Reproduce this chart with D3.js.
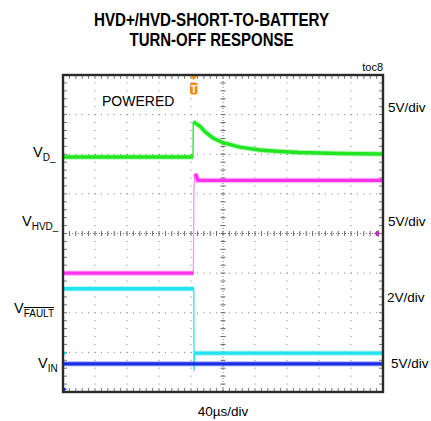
<!DOCTYPE html>
<html>
<head>
<meta charset="utf-8">
<script src="https://cdn.jsdelivr.net/npm/d3@7"></script>
<style>
  html, body { margin: 0; padding: 0; background: #fff; }
  svg { display: block; font-family: "Liberation Sans", Arial, sans-serif; }
</style>
</head>
<body>
<div id="chart"></div>
<script>
// ---------- data ----------
const titleLines = ["HVD+/HVD-SHORT-TO-BATTERY", "TURN-OFF RESPONSE"];
const timeLabel = "40µs/div";
const figId = "toc8";
const annotation = "POWERED";

// channel settings (V/div label, volts per div, zero position in divisions)
const channelNames   = ["VD_", "VHVD_", "VFAULT", "VIN"];
const channelScale   = ["5V/div", "5V/div", "2V/div", "5V/div"];
const channelVPerDiv = [5, 5, 2, 5];
const channelZeroDiv = [1.93, -1.0, -3.02, -3.93];
const channelColors  = ["#22e622", "#ff33ee", "#22e4f0", "#1a2ee6"];

// traces: time (µs) and volts
const vdTime   = [0, 162.5, 162.8, 165, 171, 177.5, 187.5, 200, 221, 246, 271, 296, 346, 400];
const vdVolts  = [0, 0, 4.4, 4.3, 3.9, 3.2, 2.4, 1.8, 1.25, 0.88, 0.7, 0.57, 0.44, 0.38];
const vdSplit  = 2;

const hvdTime  = [0, 163, 163.6, 165, 166.5, 168.5, 400];
const hvdVolts = [0, 0, 10.5, 12.5, 12.3, 11.7, 11.7];
const hvdSplit = 3;

const faultTime  = [0, 163.5, 163.8, 164.3, 400];
const faultVolts = [3.25, 3.25, -0.9, 0, 0];
const faultSplit = 3;

const vinTime  = [0, 400];
const vinVolts = [3.2, 3.2];
const vinSplit = 0;

const triggerTime = 163.4;
const trigLevelDiv = 0;

// ---------- layout ----------
const W = 431, H = 421;
const L = 63, R = 383, T = 75, B = 392;
const xDivs = 10, yDivs = 8;

const svg = d3.select("#chart").append("svg").attr("width", W).attr("height", H);

const x = d3.scaleLinear().domain([0, 400]).range([L, R]);
const y = d3.scaleLinear().domain([-4, 4]).range([B, T]);

// title
svg.append("text").attr("x", 211.5).attr("y", 26).attr("text-anchor", "middle")
  .attr("font-size", 17.5).attr("font-weight", "bold")
  .attr("textLength", 235).attr("lengthAdjust", "spacingAndGlyphs").text(titleLines[0]);
svg.append("text").attr("x", 211.5).attr("y", 46).attr("text-anchor", "middle")
  .attr("font-size", 17.5).attr("font-weight", "bold")
  .attr("textLength", 164).attr("lengthAdjust", "spacingAndGlyphs").text(titleLines[1]);

svg.append("text").attr("x", 383).attr("y", 71).attr("text-anchor", "end")
  .attr("font-size", 11).text(figId);

// grid
const g = svg.append("g");
const xMinor = d3.range(0, 400.001, 40 / 5);
const yMinor = d3.range(-4, 4.001, 1 / 5);
const dotColor = "#7a7a7a";
for (let i = 1; i < xDivs; i++) {
  if (i === 5) continue;
  const xv = x(i * 40);
  yMinor.forEach(d => {
    g.append("rect").attr("x", xv - 0.5).attr("y", y(d) - 0.5).attr("width", 1).attr("height", 1).attr("fill", dotColor);
  });
}
for (let j = -3; j <= 3; j++) {
  if (j === 0) continue;
  const yv = y(j);
  xMinor.forEach(d => {
    g.append("rect").attr("x", x(d) - 0.5).attr("y", yv - 0.5).attr("width", 1).attr("height", 1).attr("fill", dotColor);
  });
}
// center crosshair
g.append("line").attr("x1", x(200)).attr("x2", x(200)).attr("y1", T).attr("y2", B)
  .attr("stroke", "#777").attr("stroke-width", 1).attr("stroke-dasharray", "1,2");
g.append("line").attr("x1", L).attr("x2", R).attr("y1", y(0)).attr("y2", y(0))
  .attr("stroke", "#777").attr("stroke-width", 1).attr("stroke-dasharray", "1,2");
xMinor.forEach(d => {
  g.append("line").attr("x1", x(d)).attr("x2", x(d)).attr("y1", y(0) - 2.5).attr("y2", y(0) + 2.5).attr("stroke", "#666");
  g.append("line").attr("x1", x(d)).attr("x2", x(d)).attr("y1", T).attr("y2", T + 4).attr("stroke", "#777");
  g.append("line").attr("x1", x(d)).attr("x2", x(d)).attr("y1", B - 4).attr("y2", B).attr("stroke", "#777");
});
yMinor.forEach(d => {
  g.append("line").attr("x1", x(200) - 2.5).attr("x2", x(200) + 2.5).attr("y1", y(d)).attr("y2", y(d)).attr("stroke", "#666");
  g.append("line").attr("x1", L).attr("x2", L + 4).attr("y1", y(d)).attr("y2", y(d)).attr("stroke", "#777");
  g.append("line").attr("x1", R - 4).attr("x2", R).attr("y1", y(d)).attr("y2", y(d)).attr("stroke", "#777");
});

// traces
const traces = [
  {t: vdTime, v: vdVolts, split: vdSplit, ch: 0},
  {t: hvdTime, v: hvdVolts, split: hvdSplit, ch: 1},
  {t: faultTime, v: faultVolts, split: faultSplit, ch: 2},
  {t: vinTime, v: vinVolts, split: vinSplit, ch: 3}
];
const thinColors = ["#22e622", "#ff90f4", "#22e4f0", "#1a2ee6"];
const tg = svg.append("g");
traces.forEach(tr => {
  const pts = tr.t.map((t, i) => [t, tr.v[i]]);
  const ch = tr.ch;
  const line = d3.line()
    .x(d => x(d[0]))
    .y(d => y(channelZeroDiv[ch] + d[1] / channelVPerDiv[ch]));
  tg.append("path").attr("d", line(pts)).attr("fill", "none")
    .attr("stroke", thinColors[ch]).attr("stroke-width", 1.3);
  const segs = tr.split > 0 ? [pts.slice(0, 2), pts.slice(tr.split)] : [pts];
  segs.forEach(s => {
    tg.append("path").attr("d", line(s)).attr("fill", "none")
      .attr("stroke", channelColors[ch]).attr("stroke-width", 5.5).attr("stroke-opacity", 0.3);
    tg.append("path").attr("d", line(s)).attr("fill", "none")
      .attr("stroke", channelColors[ch]).attr("stroke-width", 3.4);
  });
});

// ground markers (left)
[0, 2, 3].forEach(ch => {
  const yv = y(channelZeroDiv[ch]);
  svg.append("path").attr("d", `M${L},${yv - 2.5} L${L + 4},${yv} L${L},${yv + 2.5} Z`).attr("fill", channelColors[ch]);
});
// trigger level marker (right)
const ty = y(trigLevelDiv);
svg.append("path").attr("d", `M${R - 9},${ty} L${R - 4},${ty - 3.5} L${R - 4},${ty + 3.5} Z`).attr("fill", "#c02cc0");

// frame
svg.append("rect").attr("x", L).attr("y", T).attr("width", R - L).attr("height", B - T)
  .attr("fill", "none").attr("stroke", "#2a2a2a").attr("stroke-width", 2.4);

// trigger position marker
const tx = x(triggerTime);
svg.append("path").attr("d", `M${tx - 3.5},${T + 1} L${tx + 3.5},${T + 1} L${tx},${T + 5} Z`).attr("fill", "#f08a20");
svg.append("rect").attr("x", tx - 3.8).attr("y", T + 7.5).attr("width", 7.6).attr("height", 12).attr("rx", 2.5)
  .attr("fill", "#f08a20");
svg.append("text").attr("x", tx).attr("y", T + 17.5).attr("text-anchor", "middle")
  .attr("font-size", 10).attr("font-weight", "bold").attr("fill", "#fff").text("T");

// annotation
svg.append("text").attr("x", 102).attr("y", 106).attr("font-size", 14).text(annotation);

// left channel labels
function vLabel(xv, yv, sub, over) {
  const t = svg.append("text").attr("x", xv).attr("y", yv).attr("font-size", 14.5);
  t.append("tspan").text("V");
  const s = t.append("tspan").attr("dy", 4).attr("font-size", 10).text(sub);
  if (over) s.attr("text-decoration", "overline");
  return t;
}
vLabel(33, 157, "D_", false);
vLabel(22, 226, "HVD_", false);
vLabel(14, 313, "FAULT", true);
vLabel(38, 368, "IN", false);

// right scale labels
const scaleY = [112, 226, 302, 368];
const scaleX = [388, 388, 387, 391];
channelScale.forEach((s, i) => {
  svg.append("text").attr("x", scaleX[i]).attr("y", scaleY[i]).attr("font-size", 13.5).text(s);
});

// time label
svg.append("text").attr("x", 223).attr("y", 416).attr("text-anchor", "middle").attr("font-size", 13.5).text(timeLabel);
</script>
</body>
</html>
